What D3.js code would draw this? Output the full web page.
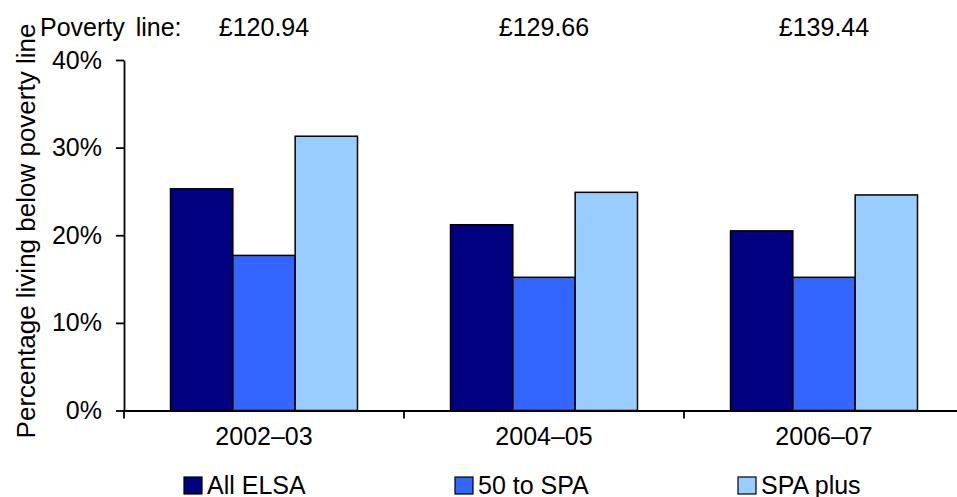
<!DOCTYPE html>
<html>
<head>
<meta charset="utf-8">
<script src="https://cdn.jsdelivr.net/npm/d3@7"></script>
<style>
  html, body { margin: 0; padding: 0; background: #fff; }
  svg text { font-family: "Liberation Sans", Arial, sans-serif; fill: #000; }
</style>
</head>
<body>
<svg id="chart" width="957" height="497"></svg>
<script>
// Poverty rates by age group across survey waves
const periods = ["2002–03", "2004–05", "2006–07"];
const povertyLines = ["£120.94", "£129.66", "£139.44"];
const seriesNames = ["All ELSA", "50 to SPA", "SPA plus"];
const allElsa = [25.3, 21.2, 20.5];
const fiftyToSpa = [17.7, 15.2, 15.2];
const spaPlus = [31.3, 24.9, 24.6];
const yTicks = [0, 10, 20, 30, 40];
const colors = ["#000080", "#3366FF", "#99CCFF"];

const seriesValues = [allElsa, fiftyToSpa, spaPlus];
const rows = periods.map((p, i) => ({
  period: p,
  values: seriesNames.map((s, j) => ({ series: s, value: seriesValues[j][i] }))
}));

const svg = d3.select("#chart");
const plot = { left: 124, top: 60, bottom: 410.5, right: 964 };
const fontSize = 25;

const x = d3.scaleBand().domain(periods).range([plot.left, plot.right])
  .paddingInner(0).paddingOuter(0);
const x1 = d3.scaleBand().domain(seriesNames).range([0, x.bandwidth()])
  .paddingInner(0).paddingOuter(0.746);
const y = d3.scaleLinear().domain([0, 40]).range([plot.bottom, plot.top]);
const color = d3.scaleOrdinal().domain(seriesNames).range(colors);

// Bars
const groups = svg.append("g").selectAll("g").data(rows).join("g")
  .attr("transform", d => `translate(${x(d.period)},0)`);
groups.selectAll("rect").data(d => d.values).join("rect")
  .attr("x", d => x1(d.series))
  .attr("y", d => y(d.value))
  .attr("width", x1.bandwidth())
  .attr("height", d => y(0) - y(d.value))
  .attr("fill", d => color(d.series))
  .attr("stroke", "#000")
  .attr("stroke-width", 1.5);

// Y axis
const yAxis = svg.append("g")
  .attr("transform", `translate(${plot.left},0)`)
  .call(d3.axisLeft(y).tickValues(yTicks).tickFormat(d => d + "%")
    .tickSize(8).tickSizeOuter(0).tickPadding(14));
yAxis.select(".domain").attr("stroke", "#000").attr("stroke-width", 1.8);
yAxis.selectAll(".tick line").attr("stroke", "#000").attr("stroke-width", 1.8);
yAxis.selectAll(".tick text").attr("font-size", fontSize)
  .attr("font-family", "Liberation Sans, Arial, sans-serif");

// X axis with ticks between categories
const xAxis = svg.append("g")
  .attr("transform", `translate(0,${plot.bottom})`)
  .call(d3.axisBottom(x).tickSize(0).tickSizeOuter(0).tickPadding(17));
xAxis.select(".domain").attr("stroke", "#000").attr("stroke-width", 1.8);
xAxis.selectAll(".tick text").attr("font-size", fontSize)
  .attr("font-family", "Liberation Sans, Arial, sans-serif");
xAxis.selectAll("line.sep").data(periods).join("line").attr("class", "sep")
  .attr("x1", d => x(d)).attr("x2", d => x(d))
  .attr("y1", 0).attr("y2", 8)
  .attr("stroke", "#000").attr("stroke-width", 1.8);

// Poverty line amounts above each period
svg.append("text").attr("x", 40).attr("y", 36)
  .attr("font-size", fontSize).attr("word-spacing", 4).text("Poverty line:");
svg.selectAll("text.pline").data(periods).join("text").attr("class", "pline")
  .attr("x", d => x(d) + x.bandwidth() / 2).attr("y", 36)
  .attr("text-anchor", "middle").attr("font-size", fontSize)
  .text((d, i) => povertyLines[i]);

// Y axis title
svg.append("text")
  .attr("transform", `translate(35,231) rotate(-90)`)
  .attr("text-anchor", "middle").attr("font-size", 26)
  .text("Percentage living below poverty line");

// Legend
const legendX = [184, 455, 738];
const legend = svg.append("g").selectAll("g").data(seriesNames).join("g")
  .attr("transform", (d, i) => `translate(${legendX[i]},477)`);
legend.append("rect").attr("width", 18).attr("height", 17)
  .attr("fill", d => color(d)).attr("stroke", "#000").attr("stroke-width", 1.2);
legend.append("text").attr("x", 23).attr("y", 16.5)
  .attr("font-size", fontSize).text(d => d);
</script>
</body>
</html>
